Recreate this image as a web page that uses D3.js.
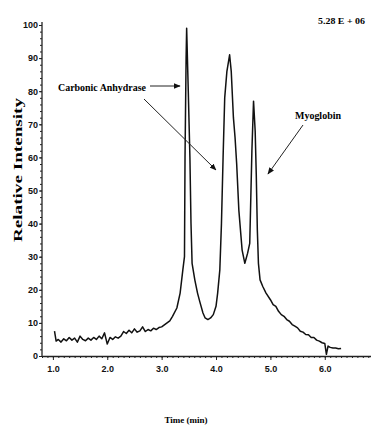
<!DOCTYPE html>
<html>
<head>
<meta charset="utf-8">
<script src="https://cdn.jsdelivr.net/npm/d3@7"></script>
<style>
  body { margin: 0; background: #fff; }
  svg { display: block; font-family: "Liberation Serif", "DejaVu Serif", serif; }
  .tick text { font-weight: bold; font-size: 9px; fill: #111; }
  .domain, .tick line { stroke: #222; }
</style>
</head>
<body>
<div id="chart"></div>
<script>
// chromatogram: time (min), relative intensity (%)
const times = [
  1.03, 1.06, 1.1, 1.15, 1.2, 1.25, 1.3, 1.35, 1.4, 1.45, 1.5, 1.55, 1.6, 1.65,
  1.7, 1.75, 1.8, 1.85, 1.9, 1.95, 2.0, 2.05, 2.1, 2.15, 2.2, 2.25, 2.3, 2.35,
  2.4, 2.45, 2.5, 2.55, 2.6, 2.65, 2.7, 2.75, 2.8, 2.85, 2.9, 2.95, 3.0, 3.05,
  3.1, 3.15, 3.2, 3.28, 3.34, 3.39, 3.42, 3.43, 3.45, 3.46, 3.49, 3.52, 3.54,
  3.56, 3.61, 3.66, 3.7, 3.76, 3.8, 3.85, 3.9, 3.95, 4.0, 4.03, 4.07, 4.1, 4.13,
  4.16, 4.2, 4.25, 4.28, 4.32, 4.35, 4.38, 4.42, 4.48, 4.53, 4.58, 4.62, 4.64,
  4.66, 4.69, 4.72, 4.74, 4.76, 4.78, 4.81, 4.86, 4.92, 5.0, 5.05, 5.1, 5.15,
  5.2, 5.25, 5.3, 5.35, 5.4, 5.45, 5.5, 5.55, 5.6, 5.65, 5.7, 5.75, 5.8, 5.85,
  5.9, 5.95, 6.0, 6.03, 6.06, 6.1, 6.15, 6.2, 6.25, 6.3,
];
const intensity = [
  7.5, 4.5, 5, 4.2, 5.2, 4.6, 5.6, 4.8, 5.4, 4.2, 6, 5, 4.6, 5.4,
  4.8, 5.6, 5, 6, 5.2, 7, 3.6, 5.6, 5, 5.8, 5.4, 6, 7.4, 6.8,
  7.8, 7, 8.2, 7.2, 7.6, 8.8, 7.4, 8, 7.6, 8.4, 8, 8.6, 8.8, 9.4,
  10, 10.6, 12, 14.5, 19, 26, 30, 60, 90, 99, 80, 60, 40,
  28, 23, 19, 16.5, 13, 11.5, 11, 11.5, 12.5, 15, 19, 26, 40, 60,
  78, 86, 91, 86, 72, 66, 58, 44, 32, 28, 31, 34, 48,
  62, 77, 68, 55, 38, 28, 23, 21, 19, 17, 15.5, 15, 13.5,
  12.5, 12, 11, 10.5, 9.5, 9, 8.5, 7.5, 7.2, 6.5, 6.4, 5.6, 5.6, 4.8,
  4.5, 4, 3.8, 0.5, 3, 2.6, 2.4, 2.4, 2.2, 2.3,
];
const xTicks = [1, 2, 3, 4, 5, 6];
const yTicks = [0, 10, 20, 30, 40, 50, 60, 70, 80, 90, 100];
const scaleNote = "5.28 E + 06";
const peakLabels = ["Carbonic Anhydrase", "Myoglobin"];

const width = 371;
const height = 428;
const plotLeft = 42;
const plotRight = 371;
const plotTop = 25;
const plotBottom = 356;

const svg = d3.select("#chart").append("svg")
  .attr("width", width)
  .attr("height", height);

const x = d3.scaleLinear().domain([0.8, 6.85]).range([plotLeft, plotRight]);
const y = d3.scaleLinear().domain([0, 100]).range([plotBottom, plotTop]);

// minor ticks first so the labelled ones sit on top
svg.append("g")
  .attr("transform", `translate(0,${plotBottom})`)
  .call(d3.axisBottom(x).ticks(60).tickSize(2).tickFormat(""))
  .call((g) => g.select(".domain").remove());
svg.append("g")
  .attr("transform", `translate(${plotLeft},0)`)
  .call(d3.axisLeft(y).ticks(50).tickSize(2).tickFormat(""))
  .call((g) => g.select(".domain").remove());

svg.append("g")
  .attr("transform", `translate(0,${plotBottom})`)
  .call(d3.axisBottom(x).tickValues(xTicks).tickSize(4).tickPadding(6)
    .tickFormat(d3.format(".1f")).tickSizeOuter(0))
  .call((g) => g.select(".domain").attr("stroke-width", 1.3));

svg.append("g")
  .attr("transform", `translate(${plotLeft},0)`)
  .call(d3.axisLeft(y).tickValues(yTicks).tickSize(3).tickPadding(1)
    .tickSizeOuter(0))
  .call((g) => g.select(".domain").attr("d", `M0,${plotBottom}V${plotTop - 3}`)
    .attr("stroke-width", 1.3));

const line = d3.line()
  .x((d, i) => x(times[i]))
  .y((d) => y(d));

svg.append("path")
  .datum(intensity)
  .attr("fill", "none")
  .attr("stroke", "#111")
  .attr("stroke-width", 1.5)
  .attr("stroke-linejoin", "round")
  .attr("d", line);

// annotations
svg.append("defs").append("marker")
  .attr("id", "arrow")
  .attr("viewBox", "0 0 10 10")
  .attr("refX", 9)
  .attr("refY", 5)
  .attr("markerWidth", 7)
  .attr("markerHeight", 7)
  .attr("orient", "auto")
  .append("path")
  .attr("d", "M0,1L10,5L0,9Z")
  .attr("fill", "#111");

const arrows = [
  [150, 86, 180, 86],
  [144, 99, 216, 170],
  [303, 125, 268, 174],
];
svg.selectAll(".arrow")
  .data(arrows)
  .join("line")
  .attr("class", "arrow")
  .attr("x1", (d) => d[0])
  .attr("y1", (d) => d[1])
  .attr("x2", (d) => d[2])
  .attr("y2", (d) => d[3])
  .attr("stroke", "#222")
  .attr("stroke-width", 1)
  .attr("marker-end", "url(#arrow)");

svg.append("text")
  .attr("x", 58)
  .attr("y", 91)
  .attr("font-size", 10)
  .attr("font-weight", "bold")
  .attr("textLength", 88)
  .attr("lengthAdjust", "spacingAndGlyphs")
  .text(peakLabels[0]);

svg.append("text")
  .attr("x", 295)
  .attr("y", 119)
  .attr("font-size", 10)
  .attr("font-weight", "bold")
  .attr("textLength", 46)
  .attr("lengthAdjust", "spacingAndGlyphs")
  .text(peakLabels[1]);

svg.append("text")
  .attr("x", 318)
  .attr("y", 24)
  .attr("font-size", 8)
  .attr("font-weight", "bold")
  .attr("textLength", 47)
  .attr("lengthAdjust", "spacingAndGlyphs")
  .text(scaleNote);

svg.append("text")
  .attr("transform", "translate(22,170) rotate(-90)")
  .attr("text-anchor", "middle")
  .attr("font-size", 13)
  .attr("font-weight", "bold")
  .attr("textLength", 144)
  .attr("lengthAdjust", "spacingAndGlyphs")
  .text("Relative Intensity");

svg.append("text")
  .attr("x", 186)
  .attr("y", 423)
  .attr("text-anchor", "middle")
  .attr("font-size", 9)
  .attr("font-weight", "bold")
  .text("Time (min)");
</script>
</body>
</html>
